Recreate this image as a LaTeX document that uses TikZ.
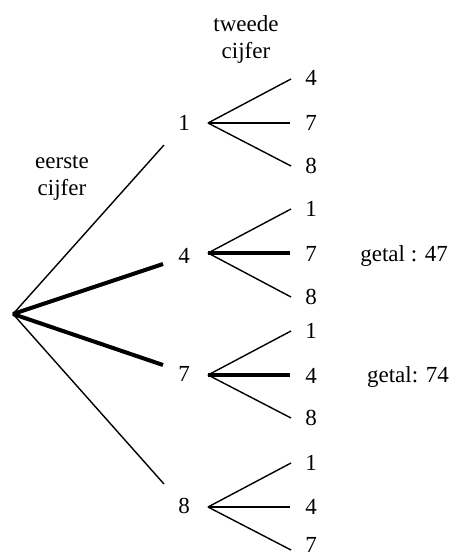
\documentclass[tikz,border=0pt]{standalone}
\usepackage{fontspec}
\setmainfont{Liberation Serif}
\begin{document}
\begin{tikzpicture}[x=1pt,y=-1pt,
  lbl/.style={inner sep=0pt, font=\fontsize{23}{27}\selectfont},
  txt/.style={inner sep=0pt, anchor=base, font=\fontsize{23}{27}\selectfont},
  br/.style={line width=1.4pt},
  brbold/.style={line width=4pt}]
\useasboundingbox (0,0) rectangle (457,556);

% headings
\node[txt] (tw1) at (246,32) {tweede};
\node[txt] (tw2) at (246,59) {cijfer};
\node[txt] (ee1) at (62,168) {eerste};
\node[txt] (ee2) at (62,195) {cijfer};

% root and first level
\coordinate (root) at (13,314);
\coordinate (e1) at (164,145);
\coordinate (e4) at (163,264);
\coordinate (e7) at (163,365);
\coordinate (e8) at (164,484);
\node[lbl] (n1) at (184,123) {1};
\node[lbl] (n4) at (184,256) {4};
\node[lbl] (n7) at (184,374) {7};
\node[lbl] (n8) at (184,506) {8};
\draw[br] (root) -- (e1);
\draw[brbold] (root) -- (e4);
\draw[brbold] (root) -- (e7);
\draw[br] (root) -- (e8);

% second level hubs
\coordinate (h1) at (208,123);
\coordinate (h4) at (208,253);
\coordinate (h7) at (208,375);
\coordinate (h8) at (208,507);

% branch 1
\coordinate (a1) at (291,79);
\coordinate (a2) at (290,123);
\coordinate (a3) at (291,166);
\node[lbl] (la1) at (311,78) {4};
\node[lbl] (la2) at (311,123) {7};
\node[lbl] (la3) at (311,166) {8};
\draw[br] (h1) -- (a1);
\draw[br] (h1) -- (a2);
\draw[br] (h1) -- (a3);

% branch 4
\coordinate (b1) at (291,209);
\coordinate (b2) at (290,253);
\coordinate (b3) at (291,297);
\node[lbl] (lb1) at (311,209) {1};
\node[lbl] (lb2) at (311,254) {7};
\node[lbl] (lb3) at (311,297) {8};
\draw[br] (h4) -- (b1);
\draw[brbold] (h4) -- (b2);
\draw[br] (h4) -- (b3);

% branch 7
\coordinate (c1) at (291,331);
\coordinate (c2) at (290,375);
\coordinate (c3) at (291,418);
\node[lbl] (lc1) at (311,331) {1};
\node[lbl] (lc2) at (311,376) {4};
\node[lbl] (lc3) at (311,418) {8};
\draw[br] (h7) -- (c1);
\draw[brbold] (h7) -- (c2);
\draw[br] (h7) -- (c3);

% branch 8
\coordinate (d1) at (291,463);
\coordinate (d2) at (290,507);
\coordinate (d3) at (291,550);
\node[lbl] (ld1) at (311,463) {1};
\node[lbl] (ld2) at (311,507) {4};
\node[lbl] (ld3) at (311,545) {7};
\draw[br] (h8) -- (d1);
\draw[br] (h8) -- (d2);
\draw[br] (h8) -- (d3);

% results
\node[txt, anchor=base east] (g47) at (448,261) {getal : 47};
\node[txt, anchor=base east] (g74) at (449,382) {getal: 74};
\end{tikzpicture}
\end{document}
